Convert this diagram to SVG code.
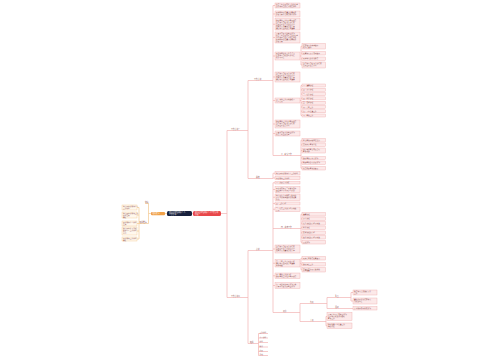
<svg xmlns="http://www.w3.org/2000/svg" width="500" height="360" viewBox="0 0 500 360">
<style>
.c{fill:none;stroke:#f2b3b3;stroke-width:0.7}
.co{fill:none;stroke:#f3c890;stroke-width:0.7}
.b{fill:#fce9e9;stroke:#eeaaaa;stroke-width:0.4}
.bo{fill:#fff8ee;stroke:#f2c88e;stroke-width:0.4}
.t{font-family:"Noto Sans CJK SC","Noto Sans",sans-serif;font-size:1.7px;fill:#8a4b4b}
.tl{font-family:"Noto Sans CJK SC","Noto Sans",sans-serif;font-size:1.8px;fill:#8a4b4b}
.tw{font-family:"Noto Sans CJK SC","Noto Sans",sans-serif;font-size:1.8px;fill:#ffffff}
</style>
<rect width="500" height="360" fill="#ffffff"/>
<g id="connectors">
<path class="c" d="M192 213.5H193M221 213.5H227M227 130.5V297.5M227 130.5H248M227 297.5H248"/>
<path class="c" d="M248 80.5V178.5M248 80.5H273M248 178.5H273"/>
<path class="c" d="M273 5.5V155.5M273 5.5H275M273 14H275M273 24.25H275M273 37.5H275M273 56H275M273 77H275M273 100.5H275M273 124H275M273 133.5H275M273 155.5H300"/>
<path class="c" d="M300 56H301M301 46.25V65M301 46.25H302M301 53.25H302M301 58.75H302M301 65H302"/>
<path class="c" d="M300 100.5H301M301 85.5V115.5M301 85.5H302M301 89.8H302M301 94.1H302M301 98.4H302M301 102.7H302M301 107H302M301 111.3H302M301 115.5H302"/>
<path class="c" d="M300 155.5H301M301 140.25V168.25M301 140.25H302M301 144.75H302M301 150.5H302M301 158H302M301 162.75H302M301 168.25H302"/>
<path class="c" d="M273 173.25V178.5M273 173.25H275M273 178H275"/>
<path class="c" d="M248 250.5V343.5M248 250.5H273M248 343.5H258.5"/>
<path class="c" d="M273 182.75V312.5M273 182.75H275M273 189.5H275M273 197.25H275M273 203.5H275M273 209.25H275M273 228.5H300M273 249H275M273 263.25H275M273 275.75H275M273 285.5H275M273 312.5H300"/>
<path class="c" d="M300 228.5H301M301 214.25V242.25M301 214.25H302M301 218.75H302M301 223.25H302M301 227.75H302M301 232.75H302M301 237.25H302M301 242.25H302"/>
<path class="c" d="M300 263.25H301M301 258.25V269.75M301 258.25H302M301 264.25H302M301 269.75H302"/>
<path class="c" d="M300 303.5V321.5M300 303.5H327M327 297.5V308.5M327 297.5H351M351 292.5V301M351 292.5H353M351 301H353M327 308.5H353"/>
<path class="c" d="M300 321.5H326M326 316.5V325.75M326 316.5H327M326 325.75H327"/>
<path class="c" d="M258.5 333.5V355.5M258.5 333.5H268M258.5 338H268M258.5 342.5H268M258.5 347H268M258.5 351.5H268M258.5 355.5H268"/>
<path class="co" d="M167 213.5H165M151 213.5H148.5M148.5 203.5V223.5M148.5 203.5H145M148.5 223.5H139M139 207.5V239M139 207.5H137M139 215H137M139 223.5H137M139 231H137M139 239H137"/>
</g>
<g id="root"><rect x="167" y="211" width="25" height="5" rx="1.5" fill="#18213d"/><text class="tw" x="169" y="213.4">幼儿园中班教师个人</text><text class="tw" x="169" y="215.3">工作计划</text></g>
<g id="main-right"><rect x="193" y="211" width="28" height="5" rx="1.5" fill="#e8474a"/><text class="tw" x="195" y="213.4">幼儿园中班教师个人工作计划</text><text class="tw" x="195" y="215.3">模板</text></g>
<g id="main-left"><rect x="151" y="212" width="14" height="3.2" rx="1" fill="#f0a047"/><text class="tw" x="152.5" y="214.3">相关文章</text></g>
<g id="left-labels"><text class="tl" x="145" y="203">链接</text><text class="tl" x="139.5" y="223">相关推荐</text></g>
<g id="left-notes">
<rect class="bo" x="122" y="205" width="15" height="5"/><text class="t" x="123" y="207">幼儿园中班教师个人</text><text class="t" x="123" y="209">工作计划</text>
<rect class="bo" x="122" y="212" width="15" height="6"/><text class="t" x="123" y="214">幼儿园中班教师工作</text><text class="t" x="123" y="216">计划范文</text><text class="t" x="123" y="217.6">模板</text>
<rect class="bo" x="122" y="221" width="15" height="5"/><text class="t" x="123" y="223">中班教师个人计划</text><text class="t" x="123" y="225">范文</text>
<rect class="bo" x="122" y="227" width="15" height="8"/><text class="t" x="123" y="229">幼儿园中班下学期</text><text class="t" x="123" y="231">教师个人工作计划</text><text class="t" x="123" y="233">五篇</text>
<rect class="bo" x="122" y="237" width="15" height="4"/><text class="t" x="123" y="239">中班教师工作计划</text><text class="t" x="123" y="240.6">模板</text>
</g>
<g id="branch-a"><text class="tl" x="231" y="129.8">工作计划一</text></g>
<g id="branch-a1"><text class="tl" x="254" y="79.8">工作计划</text></g>
<g id="branch-a2"><text class="tl" x="256" y="177.8">总结</text></g>
<g id="a1-children">
<rect class="b" x="275" y="3" width="25" height="5"/><text class="t" x="276" y="5">认真贯彻上级有关工作的要求</text><text class="t" x="276" y="7.1">结合本园实际情况制定计划</text>
<rect class="b" x="275" y="11" width="25" height="6"/><text class="t" x="276" y="13">加强教师队伍建设提高素质</text><text class="t" x="276" y="15.1">积极开展各项教育教学活动</text>
<rect class="b" x="275" y="18.5" width="25" height="11.5"/><text class="t" x="276" y="20.5">做好家长工作促进家园共育</text><text class="t" x="276" y="22.6">注重幼儿良好习惯的培养</text><text class="t" x="276" y="24.7">定期组织业务学习与交流</text><text class="t" x="276" y="26.8">完善各项规章制度和管理</text><text class="t" x="276" y="28.9">确保幼儿在园的安全健康</text>
<rect class="b" x="275" y="32" width="25" height="11"/><text class="t" x="276" y="34">开展丰富多彩的主题活动</text><text class="t" x="276" y="36.1">认真贯彻上级有关工作的要求</text><text class="t" x="276" y="38.2">结合本园实际情况制定计划</text><text class="t" x="276" y="40.3">加强教师队伍建设提高素质</text><text class="t" x="276" y="42.2">积极开展</text>
<rect class="b" x="275" y="52" width="25" height="8"/><text class="t" x="276" y="54">本学期我班的工作重点是</text><text class="t" x="276" y="56.1">培养幼儿良好的生活习惯</text><text class="t" x="276" y="58.2">和学习习惯</text>
<rect class="b" x="275" y="72" width="25" height="10"/><text class="t" x="276" y="74">注重幼儿良好习惯的培养</text><text class="t" x="276" y="76.1">定期组织业务学习与交流</text><text class="t" x="276" y="78.2">完善各项规章制度和管理</text><text class="t" x="276" y="80.3">确保幼儿在园的安全健康</text>
<rect class="b" x="275" y="98" width="25" height="5"/><text class="t" x="276" y="100">二、具体工作及措施如下</text><text class="t" x="276" y="102.1">几个方面</text>
<rect class="b" x="275" y="120" width="25" height="8"/><text class="t" x="276" y="122">做好家长工作促进家园共育</text><text class="t" x="276" y="124.1">注重幼儿良好习惯的培养</text><text class="t" x="276" y="126.2">定期组织业务学习</text>
<rect class="b" x="275" y="131" width="25" height="5"/><text class="t" x="276" y="133">开展丰富多彩的主题活动</text><text class="t" x="276" y="135.1">认真贯彻上级要求</text>
<text class="tl" x="281" y="154.8">三、家长工作</text>
</g>
<g id="c5-children">
<rect class="b" x="302" y="43.5" width="23.5" height="5.5"/><text class="t" x="303" y="45.5">培养幼儿的自理能力</text><text class="t" x="303" y="47.6">和动手能力</text>
<rect class="b" x="302" y="51.5" width="23.5" height="3.5"/><text class="t" x="303" y="53.8">提高幼儿语言表达能力</text>
<rect class="b" x="302" y="57" width="23.5" height="3.5"/><text class="t" x="303" y="59.3">加强幼儿的常规教育</text>
<rect class="b" x="302" y="62" width="23.5" height="6"/><text class="t" x="303" y="64">注重幼儿良好习惯的培养</text><text class="t" x="303" y="66.1">定期组织业务学习</text>
</g>
<g id="c7-children">
<rect class="b" x="302" y="84" width="23.5" height="3"/><text class="t" x="303" y="86.1">一、健康领域</text>
<rect class="b" x="302" y="88.3" width="23.5" height="3"/><text class="t" x="303" y="90.4">二、语言领域</text>
<rect class="b" x="302" y="92.6" width="23.5" height="3"/><text class="t" x="303" y="94.7">三、社会领域</text>
<rect class="b" x="302" y="96.9" width="23.5" height="3"/><text class="t" x="303" y="99">四、科学领域</text>
<rect class="b" x="302" y="101.2" width="23.5" height="3"/><text class="t" x="303" y="103.3">五、艺术领域</text>
<rect class="b" x="302" y="105.5" width="23.5" height="3"/><text class="t" x="303" y="107.6">六、安全工作</text>
<rect class="b" x="302" y="109.8" width="23.5" height="3"/><text class="t" x="303" y="111.9">七、卫生保健工作</text>
<rect class="b" x="302" y="114" width="23.5" height="3"/><text class="t" x="303" y="116.1">八、家长工作</text>
</g>
<g id="c10-children">
<rect class="b" x="302" y="138.5" width="23.5" height="3.5"/><text class="t" x="303" y="140.8">利用家长园地宣传知识</text>
<rect class="b" x="302" y="143" width="23.5" height="3.5"/><text class="t" x="303" y="145.3">定期召开家长会议</text>
<rect class="b" x="302" y="148" width="23.5" height="5"/><text class="t" x="303" y="150">通过电话家访等形式与</text><text class="t" x="303" y="152.1">家长沟通</text>
<rect class="b" x="302" y="156.5" width="23.5" height="3"/><text class="t" x="303" y="158.6">做好家长开放日活动</text>
<rect class="b" x="302" y="161" width="23.5" height="3.5"/><text class="t" x="303" y="163.3">鼓励家长参与班级活动</text>
<rect class="b" x="302" y="166.5" width="23.5" height="3.5"/><text class="t" x="303" y="168.8">认真听取家长的意见</text>
</g>
<g id="a2-children">
<rect class="b" x="275" y="171.5" width="25" height="3.5"/><text class="t" x="276" y="173.8">幼儿园中班教师个人工作计划</text>
<rect class="b" x="275" y="176.5" width="25" height="3"/><text class="t" x="276" y="178.6">中班教师工作计划</text>
</g>
<g id="branch-b"><text class="tl" x="231" y="296.8">工作计划二</text></g>
<g id="branch-b1"><text class="tl" x="256" y="249.8">计划</text></g>
<g id="branch-b2"><text class="tl" x="250" y="342.8">相关</text></g>
<g id="b1-children">
<rect class="b" x="275" y="181.5" width="25" height="2.5"/><text class="t" x="276" y="183.3">一、班级情况分析</text>
<rect class="b" x="275" y="186.5" width="25" height="6"/><text class="t" x="276" y="188.5">本班共有幼儿三十余名其中</text><text class="t" x="276" y="190.6">男孩女孩各半经过小班的</text><text class="t" x="276" y="192.2">学习</text>
<rect class="b" x="275" y="194" width="25" height="6.5"/><text class="t" x="276" y="196">幼儿在各方面都有了很大的</text><text class="t" x="276" y="198.1">进步生活自理能力有所提高</text><text class="t" x="276" y="200">常规</text>
<rect class="b" x="275" y="202" width="25" height="3"/><text class="t" x="276" y="204.1">二、工作目标</text>
<rect class="b" x="275" y="207" width="25" height="4.5"/><text class="t" x="276" y="209">三、保育工作的目标及措施</text><text class="t" x="276" y="211">方面</text>
<text class="tl" x="281" y="227.8">四、教育工作</text>
<rect class="b" x="275" y="245" width="25" height="8"/><text class="t" x="276" y="247">注重幼儿良好习惯的培养</text><text class="t" x="276" y="249.1">定期组织业务学习与交流</text><text class="t" x="276" y="251.2">完善各项规章制度和管理</text>
<rect class="b" x="275" y="259.5" width="25" height="7.5"/><text class="t" x="276" y="261.5">五、安全工作方面的目标</text><text class="t" x="276" y="263.6">确保幼儿在园的安全健康</text><text class="t" x="276" y="265.7">具体措施</text>
<rect class="b" x="275" y="273" width="25" height="5.5"/><text class="t" x="276" y="275">六、家长工作的目标</text><text class="t" x="276" y="277.1">做好家长工作促进家园共育</text>
<rect class="b" x="275" y="282.5" width="25" height="6"/><text class="t" x="276" y="284.5">七、本学期的主要活动安排</text><text class="t" x="276" y="286.6">开展丰富多彩的主题活动</text>
<text class="tl" x="283" y="311.8">月份</text>
</g>
<g id="d6-children">
<rect class="b" x="302" y="212.5" width="23.5" height="3.5"/><text class="t" x="303" y="214.8">健康领域</text>
<rect class="b" x="302" y="217" width="23.5" height="3.5"/><text class="t" x="303" y="219.3">语言领域</text>
<rect class="b" x="302" y="221.5" width="23.5" height="3.5"/><text class="t" x="303" y="223.8">社会领域的目标与措施</text>
<rect class="b" x="302" y="226" width="23.5" height="3.5"/><text class="t" x="303" y="228.3">科学领域</text>
<rect class="b" x="302" y="231" width="23.5" height="3.5"/><text class="t" x="303" y="233.3">艺术领域的目标</text>
<rect class="b" x="302" y="235.5" width="23.5" height="3.5"/><text class="t" x="303" y="237.8">数学领域的目标与措施</text>
<rect class="b" x="302" y="240.5" width="23.5" height="3.5"/><text class="t" x="303" y="242.8">区域活动</text>
</g>
<g id="d8-children">
<rect class="b" x="302" y="256.5" width="23.5" height="3.5"/><text class="t" x="303" y="258.8">加强安全教育提高意识</text>
<rect class="b" x="302" y="262.5" width="23.5" height="3.5"/><text class="t" x="303" y="264.8">做好晨检工作</text>
<rect class="b" x="302" y="267.5" width="23.5" height="4.5"/><text class="t" x="303" y="269.5">定期检查班级设施消除</text><text class="t" x="303" y="271.4">安全隐患</text>
</g>
<g id="d11-children">
<text class="tl" x="310" y="302.8">九月</text>
<text class="tl" x="335" y="296.8">重点</text>
<text class="tl" x="335" y="307.8">活动</text>
<rect class="b" x="353" y="290" width="24" height="5"/><text class="t" x="354" y="292">稳定幼儿情绪做好开学</text><text class="t" x="354" y="294.1">工作</text>
<rect class="b" x="353" y="298" width="24" height="6"/><text class="t" x="354" y="300">建立班级常规培养幼儿</text><text class="t" x="354" y="302.1">良好的习惯</text>
<rect class="b" x="353" y="306.5" width="24" height="3.5"/><text class="t" x="354" y="308.8">庆祝教师节中秋节活动</text>
<text class="tl" x="310" y="320.8">十月</text>
<rect class="b" x="327" y="312.5" width="25" height="8"/><text class="t" x="328" y="314.5">开展庆祝国庆节主题活动</text><text class="t" x="328" y="316.6">组织幼儿秋游活动做好</text><text class="t" x="328" y="318.7">家长工作</text>
<rect class="b" x="327" y="323" width="25" height="5.5"/><text class="t" x="328" y="325">做好秋季卫生保健工作</text><text class="t" x="328" y="327.1">预防疾病</text>
</g>
<g id="b2-children">
<text class="t" x="259.5" y="333">工作计划</text>
<text class="t" x="259.5" y="337.5">个人计划</text>
<text class="t" x="259.5" y="342">计划</text>
<text class="t" x="259.5" y="346.5">教学</text>
<text class="t" x="259.5" y="351">班级</text>
<text class="t" x="259.5" y="355">学期</text>
</g>
</svg>
